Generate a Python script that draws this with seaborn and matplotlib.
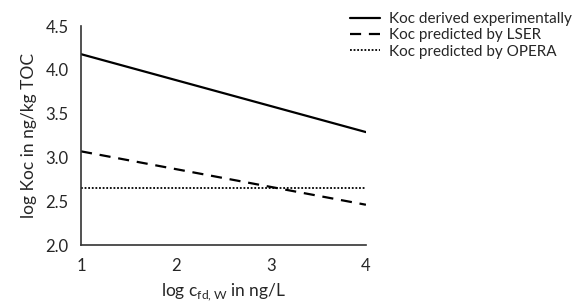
import matplotlib
matplotlib.use('Agg')
import matplotlib.pyplot as plt
import seaborn as sns
import pandas as pd

# endpoints of the three lines (log c_fd,W vs log Koc)
x_vals = [1, 4]
koc_exp = [4.18, 3.29]
koc_lser = [3.07, 2.46]
koc_opera = [2.65, 2.65]
labels = ['Koc derived experimentally', 'Koc predicted by LSER', 'Koc predicted by OPERA']

sns.set_style('white')
plt.rcParams['font.family'] = ['Lato', 'DejaVu Sans']

fig = plt.figure(figsize=(5.85, 3.04), dpi=100)
ax = fig.add_axes([0.1385, 0.194, 0.487, 0.72])

sns.lineplot(x=x_vals, y=koc_exp, ax=ax, color='black', lw=1.6, label=labels[0])
sns.lineplot(x=x_vals, y=koc_lser, ax=ax, color='black', lw=1.6, label=labels[1])
sns.lineplot(x=x_vals, y=koc_opera, ax=ax, color='black', lw=1.3, label=labels[2])
ax.lines[1].set_dashes([5, 3.5])
ax.lines[2].set_dashes([1, 1])

ax.set_xlim(1, 4)
ax.set_ylim(2.0, 4.5)
ax.set_xticks([1, 2, 3, 4])
ax.set_yticks([2.0, 2.5, 3.0, 3.5, 4.0, 4.5])
ax.set_yticklabels(['2.0', '2.5', '3.0', '3.5', '4.0', '4.5'])
for s in ['top', 'right']:
    ax.spines[s].set_visible(False)
for s in ['left', 'bottom']:
    ax.spines[s].set_color('#333333')
    ax.spines[s].set_linewidth(1.2)
ax.tick_params(direction='out', length=4, width=1.2, color='#333333', labelsize=12, pad=5)
ax.set_xlabel('log c$_{\\mathregular{fd,W}}$ in ng/L', fontsize=12.5, labelpad=6)
ax.set_ylabel('log Koc in ng/kg TOC', fontsize=12.5, labelpad=6)

leg = ax.legend(loc='upper left', bbox_to_anchor=(0.59, 0.975), bbox_transform=fig.transFigure,
                frameon=False, fontsize=11, handlelength=2.0, handletextpad=0.6, labelspacing=0.15,
                borderaxespad=0, borderpad=0.3)

fig.savefig('out.png', dpi=100)
